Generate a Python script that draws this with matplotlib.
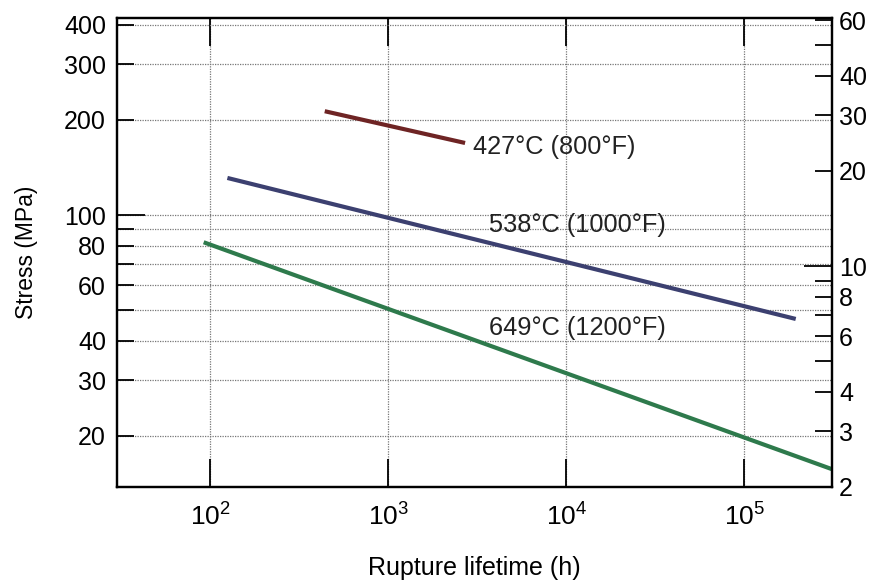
import matplotlib
matplotlib.use("Agg")
import matplotlib.pyplot as plt
from matplotlib.ticker import FixedLocator, FixedFormatter, NullFormatter, NullLocator

plt.rcParams['font.family'] = ['Liberation Sans', 'DejaVu Sans']
plt.rcParams['mathtext.fontset'] = 'custom'
plt.rcParams['mathtext.rm'] = 'Liberation Sans'
plt.rcParams['mathtext.it'] = 'Liberation Sans:italic'
plt.rcParams['mathtext.bf'] = 'Liberation Sans:bold'

# Data (rupture lifetime in h, stress in MPa)
t_427 = [440, 2700]
s_427 = [213, 169]
t_538 = [125, 1.94e5]
s_538 = [131, 46.9]
t_649 = [92, 3.1e5]
s_649 = [82, 15.7]

labels = ['427°C (800°F)', '538°C (1000°F)', '649°C (1200°F)']
label_x = [2980, 3670, 3670]
label_y = [164, 93, 44]

mpa_ticks = [20, 30, 40, 60, 80, 100, 200, 300, 400]
mpa_minor = [50, 70, 90]
ksi_ticks = [2, 3, 4, 6, 8, 10, 20, 30, 40, 60]
ksi_minor = [5, 7, 9, 50]
x_ticks = [1e2, 1e3, 1e4, 1e5]
x_labels = ['$\\mathrm{10^2}$', '$\\mathrm{10^3}$', '$\\mathrm{10^4}$', '$\\mathrm{10^5}$']

MPA_PER_KSI = 6.895

fig = plt.figure(figsize=(8.73, 5.86), dpi=100)
ax = fig.add_axes([117/873, 1 - 487/586, (832-117)/873, (487-18)/586])

ax.plot(t_427, s_427, color='#6e2424', lw=3, solid_capstyle='butt')
ax.plot(t_538, s_538, color='#3c4070', lw=3, solid_capstyle='butt')
ax.plot(t_649, s_649, color='#2e7a4c', lw=3, solid_capstyle='butt')

for txt, x, y in zip(labels, label_x, label_y):
    ax.text(x, y, txt, fontsize=18.3, ha='left', va='center', color='#222222')

ax.set_xscale('log')
ax.set_yscale('log')
ax.set_xlim(30, 3.1e5)
ylo, yhi = 2 * MPA_PER_KSI, 420
ax.set_ylim(ylo, yhi)

ax.xaxis.set_major_locator(FixedLocator(x_ticks))
ax.xaxis.set_major_formatter(FixedFormatter(x_labels))
ax.xaxis.set_minor_locator(NullLocator())
ax.yaxis.set_major_locator(FixedLocator(mpa_ticks))
ax.yaxis.set_major_formatter(FixedFormatter([str(v) for v in mpa_ticks]))
ax.yaxis.set_minor_locator(FixedLocator(mpa_minor))
ax.yaxis.set_minor_formatter(NullFormatter())

ax.tick_params(axis='x', which='major', direction='in', length=20, width=1.3,
               top=True, bottom=True, labelsize=19, pad=12)
ax.tick_params(axis='y', which='both', direction='in', length=12, width=1.3,
               left=True, right=False, labelsize=18, pad=8)
for tk, v in zip(ax.yaxis.get_major_ticks(), mpa_ticks):
    if v == 100:
        tk.tick1line.set_markersize(20)

ax.grid(True, axis='x', which='major', linestyle=(0, (1, 1)), color='#777777', lw=0.9)
ax.grid(True, axis='y', which='both', linestyle=(0, (1, 1)), color='#777777', lw=0.9)

for sp in ax.spines.values():
    sp.set_linewidth(1.6)

ax2 = ax.twinx()
ax2.set_yscale('log')
ax2.set_ylim(ylo / MPA_PER_KSI, yhi / MPA_PER_KSI)
ax2.yaxis.set_major_locator(FixedLocator(ksi_ticks))
ax2.yaxis.set_major_formatter(FixedFormatter([str(v) for v in ksi_ticks]))
ax2.yaxis.set_minor_locator(FixedLocator(ksi_minor))
ax2.yaxis.set_minor_formatter(NullFormatter())
ax2.tick_params(axis='y', which='both', direction='in', length=12, width=1.3,
                labelsize=18, pad=5)
for tk, v in zip(ax2.yaxis.get_major_ticks(), ksi_ticks):
    if v == 10:
        tk.tick2line.set_markersize(20)
for sp in ax2.spines.values():
    sp.set_linewidth(1.6)

ax.set_xlabel('Rupture lifetime (h)', fontsize=18, labelpad=18)
ax.set_ylabel('Stress (MPa)', fontsize=16.5, labelpad=19)

fig.savefig('out.png', dpi=100)
